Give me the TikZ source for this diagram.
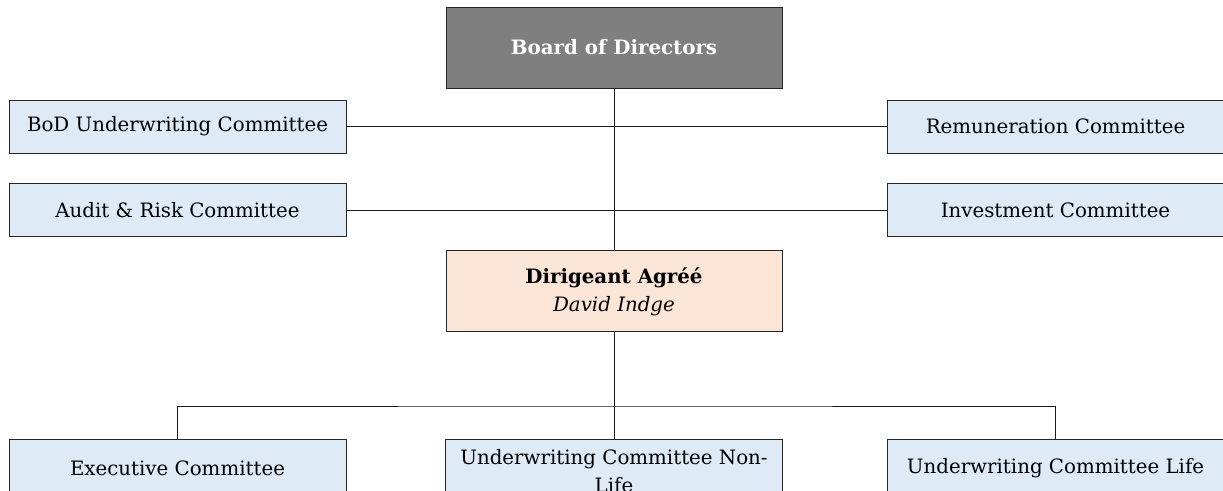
\documentclass[tikz,border=0pt]{standalone}
\usepackage{fontspec}
\setmainfont{DejaVu Serif}
\usetikzlibrary{positioning}
\definecolor{boardgray}{HTML}{7F7F7F}
\definecolor{commblue}{HTML}{DEEAF6}
\definecolor{dirpeach}{HTML}{FBE5D6}
\begin{document}
\begin{tikzpicture}[x=1pt, y=-1pt, font=\fontsize{19.8}{28}\selectfont,
every node/.style={rectangle,draw=black!85,line width=0.9pt,inner sep=0pt,align=center},
comm/.style={fill=commblue,minimum width=337pt,minimum height=53pt},
head/.style={minimum width=336pt,minimum height=81pt},
link/.style={black!90,line width=0.9pt}]
\useasboundingbox (0,0) rectangle (1223,490);
\clip (0,0) rectangle (1223,490);
\node[head,fill=boardgray,text=white,font=\fontsize{19.8}{28}\selectfont\bfseries] (board) at (614,47.5) {Board of Directors};
\node[comm] (bodu) at (177.5,126.5) {BoD Underwriting Committee};
\node[comm,below=30pt of bodu] (audit) {Audit \& Risk Committee};
\node[comm] (remun) at (1055.5,126.5) {Remuneration Committee};
\node[comm,below=30pt of remun] (invest) {Investment Committee};
\node[head,fill=dirpeach,below=162pt of board] (dirig) {\textbf{Dirigeant Agréé}\\\textit{David Indge}};
\node[comm,minimum height=63pt,anchor=north] (uwnl) at (614,439) {Underwriting Committee Non-\\Life};
\node[comm,minimum height=58pt,anchor=north] (exec) at (177.5,439) {Executive Committee};
\node[comm,minimum height=58pt,anchor=north] (uwl) at (1055.5,439) {Underwriting Committee Life};
\coordinate (bus) at (614,406);
% connectors
\draw[link] (board) -- (dirig);
\draw[link] (bodu) -- (remun);
\draw[link] (audit) -- (invest);
\draw[link] (dirig) -- (uwnl);
\draw[link] (exec) |- (bus) -| (uwl);
\end{tikzpicture}
\end{document}
